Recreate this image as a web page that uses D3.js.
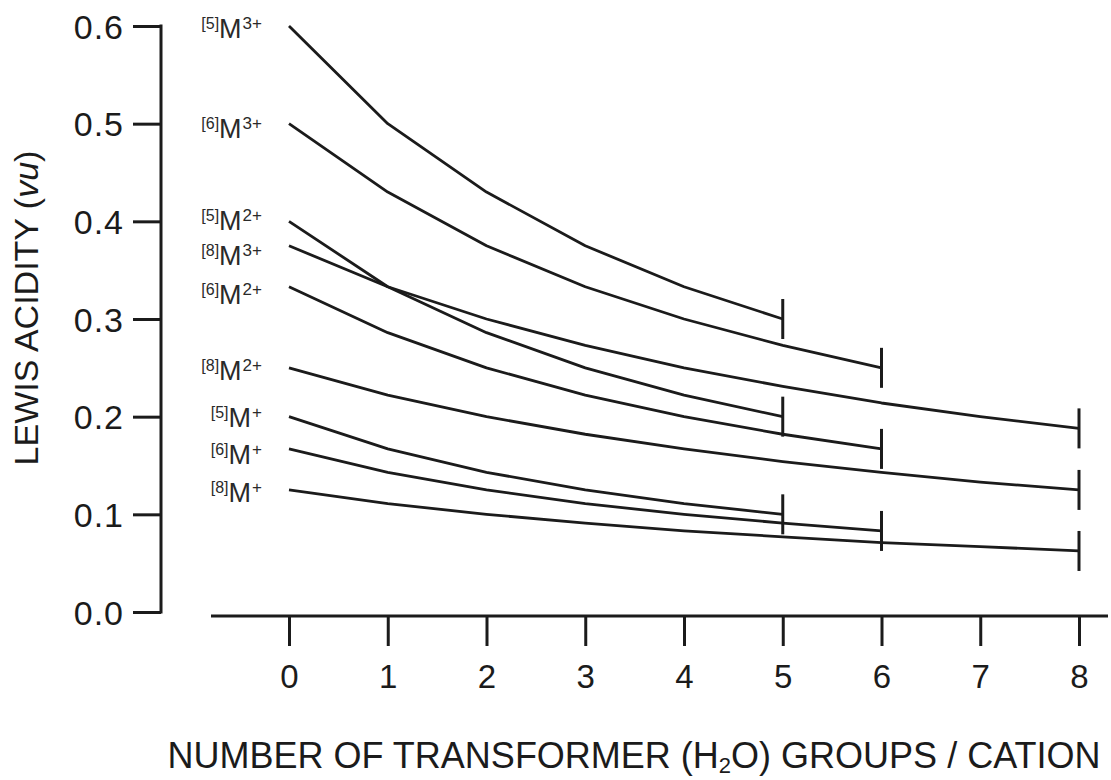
<!DOCTYPE html>
<html>
<head>
<meta charset="utf-8">
<script src="https://cdn.jsdelivr.net/npm/d3@7"></script>
<style>
  html, body { margin: 0; padding: 0; background: #fff; }
  svg { display: block; font-family: "Liberation Sans", Arial, Helvetica, sans-serif; }
</style>
</head>
<body>
<svg id="chart" width="1111" height="780"></svg>
<script>
// Lewis acidity (vu) vs. number of transformer (H2O) groups per cation
const transformerTicks = [0, 1, 2, 3, 4, 5, 6, 7, 8];
const acidityTicks = [0.0, 0.1, 0.2, 0.3, 0.4, 0.5, 0.6];

// series identity: coordination number and cation charge
const coordination = [5, 6, 5, 8, 6, 8, 5, 6, 8];
const charge       = ["3+", "3+", "2+", "3+", "2+", "2+", "+", "+", "+"];

// acidity at n = 0, 1, 2, ... transformer groups
const m5c3 = [0.600, 0.500, 0.430, 0.375, 0.333, 0.300];
const m6c3 = [0.500, 0.430, 0.375, 0.333, 0.300, 0.273, 0.250];
const m5c2 = [0.400, 0.333, 0.286, 0.250, 0.222, 0.200];
const m8c3 = [0.375, 0.333, 0.300, 0.273, 0.250, 0.231, 0.214, 0.200, 0.188];
const m6c2 = [0.333, 0.286, 0.250, 0.222, 0.200, 0.182, 0.167];
const m8c2 = [0.250, 0.222, 0.200, 0.182, 0.167, 0.154, 0.143, 0.133, 0.125];
const m5c1 = [0.200, 0.167, 0.143, 0.125, 0.111, 0.100];
const m6c1 = [0.167, 0.143, 0.125, 0.111, 0.100, 0.091, 0.083];
const m8c1 = [0.125, 0.111, 0.100, 0.091, 0.083, 0.077, 0.071, 0.067, 0.0625];

const seriesValues = [m5c3, m6c3, m5c2, m8c3, m6c2, m8c2, m5c1, m6c1, m8c1];

// vertical nudge of each series label's baseline below its starting point (px)
const labelNudge = [12, 14, 9, 19, 17, 12, 10, 15, 12];

const svg = d3.select("#chart");
const ink = "#1b1b1b";

const x = d3.scaleLinear().domain([0, 8]).range([289, 1079]);
const y = d3.scaleLinear().domain([0, 0.6]).range([612, 26]);

// ---- y axis (line on the right of the tick marks) ----
const yAxisX = 161;
const yAxis = d3.axisLeft(y)
  .tickValues(acidityTicks)
  .tickFormat(d3.format(".1f"))
  .tickSize(28)
  .tickPadding(9);
const gy = svg.append("g").attr("transform", `translate(${yAxisX},0)`).call(yAxis);
gy.select(".domain").remove();
gy.append("line")
  .attr("x1", 0).attr("x2", 0)
  .attr("y1", y(0.6) - 1.5).attr("y2", y(0) + 1.5)
  .attr("stroke", ink).attr("stroke-width", 3);
gy.selectAll(".tick line").attr("stroke", ink).attr("stroke-width", 3);
gy.selectAll(".tick text")
  .attr("fill", ink)
  .style("font-size", "34px")
  .style("letter-spacing", "1px")
  .attr("dy", "0.36em");

// ---- x axis (offset below the plot) ----
const xAxisY = 616;
const xAxis = d3.axisBottom(x)
  .tickValues(transformerTicks)
  .tickFormat(d3.format("d"))
  .tickSize(30)
  .tickPadding(19);
const gx = svg.append("g").attr("transform", `translate(0,${xAxisY})`).call(xAxis);
gx.select(".domain").remove();
gx.append("line")
  .attr("x1", 211).attr("x2", 1108)
  .attr("y1", 0).attr("y2", 0)
  .attr("stroke", ink).attr("stroke-width", 3);
gx.selectAll(".tick line").attr("stroke", ink).attr("stroke-width", 3);
gx.selectAll(".tick text")
  .attr("fill", ink)
  .style("font-size", "33px");

// ---- axis titles ----
svg.append("text")
  .attr("transform", `translate(38,${308}) rotate(-90)`)
  .attr("text-anchor", "middle")
  .attr("fill", ink)
  .style("font-size", "34px")
  .call(t => {
    t.append("tspan").text("LEWIS ACIDITY (");
    t.append("tspan").style("font-style", "italic").text("vu");
    t.append("tspan").text(")");
  });

svg.append("text")
  .attr("x", 634).attr("y", 768)
  .attr("text-anchor", "middle")
  .attr("fill", ink)
  .style("font-size", "36px")
  .call(t => {
    t.append("tspan").text("NUMBER OF TRANSFORMER (H");
    t.append("tspan").attr("dy", 5).style("font-size", "22px").text("2");
    t.append("tspan").attr("dy", -5).text("O) GROUPS / CATION");
  });

// ---- curves ----
const line = d3.line()
  .x((d, i) => x(i))
  .y(d => y(d));

const series = svg.append("g").selectAll("g")
  .data(seriesValues)
  .join("g");

series.append("path")
  .attr("d", d => line(d))
  .attr("fill", "none")
  .attr("stroke", ink)
  .attr("stroke-width", 2.8)
  .attr("stroke-linejoin", "round");

// end bar marking the last transformer count of each series
series.append("line")
  .attr("x1", d => x(d.length - 1))
  .attr("x2", d => x(d.length - 1))
  .attr("y1", d => y(d[d.length - 1]) - 20)
  .attr("y2", d => y(d[d.length - 1]) + 20)
  .attr("stroke", ink)
  .attr("stroke-width", 3);

// ---- series labels: [N]M^z ----
series.append("text")
  .attr("x", x(0) - 27)
  .attr("y", (d, i) => y(d[0]) + labelNudge[i])
  .attr("text-anchor", "end")
  .attr("fill", "#2a2a2a")
  .each(function (d, i) {
    const t = d3.select(this);
    t.append("tspan").attr("dy", -9).style("font-size", "16px").text(`[${coordination[i]}]`);
    t.append("tspan").attr("dy", 9).style("font-size", "27px").text("M");
    t.append("tspan").attr("dy", -9).attr("dx", 1).style("font-size", "17px").text(charge[i]);
  });
</script>
</body>
</html>
